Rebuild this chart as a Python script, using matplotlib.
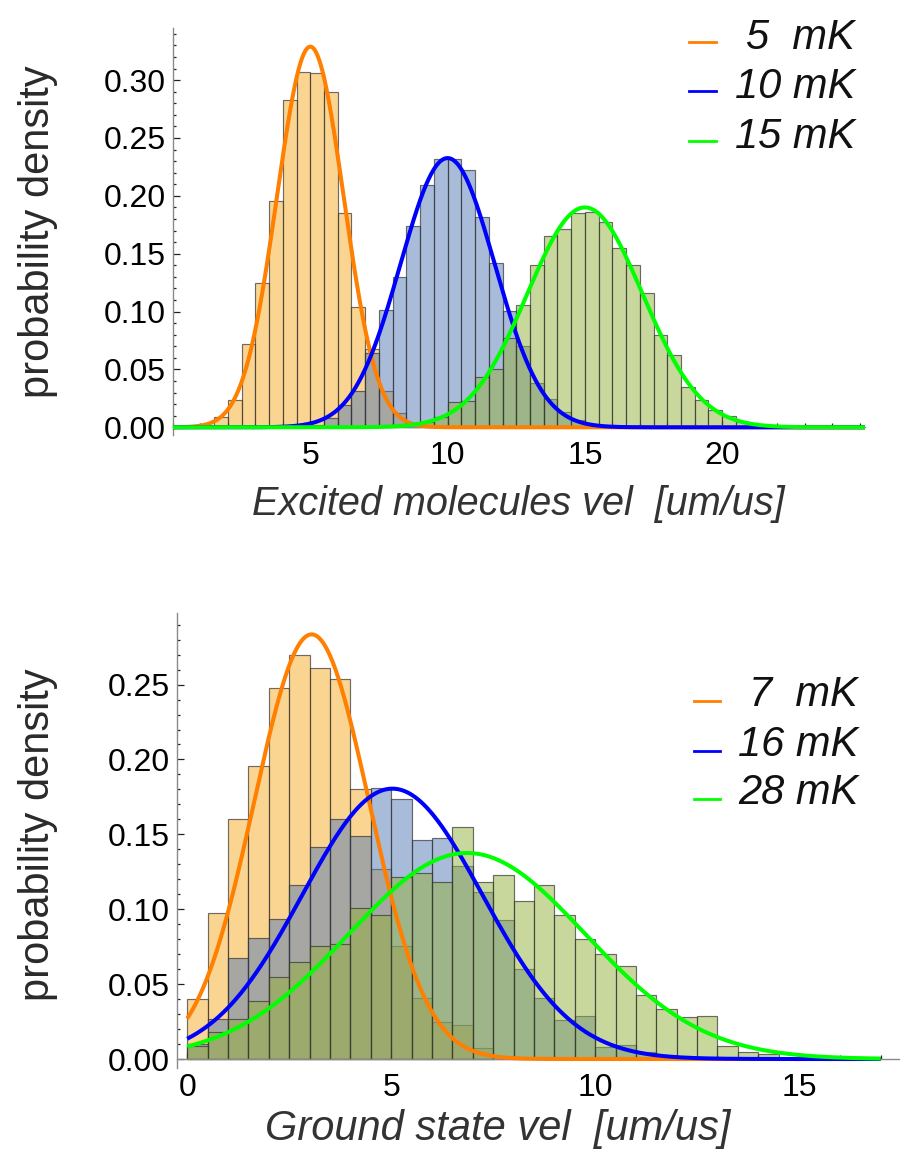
import numpy as np
import matplotlib
matplotlib.use("Agg")
import matplotlib.pyplot as plt
from matplotlib.lines import Line2D
from matplotlib.ticker import MultipleLocator, FormatStrFormatter

# ---------------- data ----------------
BIN_WIDTH = 0.5

# Excited molecules: histogram densities (bin width 0.5) and their first bin edge
exc_labels = ["5  mK", "10 mK", "15 mK"]
exc_orange_start = 1.0
exc_orange = [0.002, 0.0086, 0.0236, 0.072, 0.1245, 0.1957, 0.283, 0.307, 0.306,
              0.290, 0.185, 0.104, 0.0675, 0.0314, 0.0126, 0.003]
exc_blue_start = 5.0
exc_blue = [0.002, 0.008, 0.019, 0.0314, 0.064, 0.101, 0.130, 0.174, 0.209, 0.2317,
            0.2317, 0.222, 0.182, 0.142, 0.1006, 0.0703, 0.038, 0.0248, 0.0135,
            0.006, 0.002, 0.001]
exc_green_start = 8.5
exc_green = [0.002, 0.005, 0.0086, 0.0216, 0.0228, 0.0438, 0.050, 0.0775, 0.1055,
             0.140, 0.1654, 0.1713, 0.185, 0.186, 0.177, 0.155, 0.140, 0.116, 0.080,
             0.0625, 0.035, 0.0236, 0.015, 0.010, 0.005, 0.002]
exc_fit_mean = [5.0, 10.0, 15.0]
exc_fit_sigma = [1.213, 1.715, 2.10]

# Ground state molecules
gnd_labels = ["7  mK", "16 mK", "28 mK"]
gnd_orange_start = 0.0
gnd_orange = [0.0401, 0.0974, 0.160, 0.1955, 0.2477, 0.2695, 0.261, 0.254, 0.180,
              0.1268, 0.0755, 0.0406, 0.025, 0.0227, 0.0071]
gnd_blue_start = 0.0
gnd_blue = [0.010, 0.0265, 0.0673, 0.0807, 0.0934, 0.1163, 0.1414, 0.160, 0.1486,
            0.181, 0.1736, 0.1464, 0.1474, 0.1292, 0.1114, 0.0925, 0.060, 0.041,
            0.026, 0.029, 0.008, 0.0096, 0.005, 0.002]
gnd_green_start = 0.0
gnd_green = [0.0087, 0.0183, 0.0265, 0.039, 0.0546, 0.0648, 0.0755, 0.0767, 0.1005,
             0.0963, 0.1212, 0.1241, 0.1179, 0.1549, 0.1181, 0.1228, 0.1058, 0.1165,
             0.0964, 0.080, 0.070, 0.0624, 0.0425, 0.0334, 0.028, 0.029, 0.009,
             0.005, 0.0035]
gnd_fit_mean = [3.05, 5.03, 6.86]
gnd_fit_sigma = [1.407, 2.21, 2.90]

# ---------------- style ----------------
W, H = 901, 1149
BAR_BASE = [(0.968, 0.670, 0.146), (0.326, 0.474, 0.710), (0.576, 0.694, 0.224)]
LINE_COLORS = ["#FF7F00", "#0000FF", "#00FF00"]
EDGE = (0.2, 0.2, 0.2, 0.7)
AXIS_GRAY = "#8a8a8a"
SANS = "Liberation Sans"


def fx(px):
    return px / W


def fy(py):
    return 1 - py / H


def gauss(x, m, s):
    return np.exp(-0.5 * ((x - m) / s) ** 2) / (s * np.sqrt(2 * np.pi))


def draw_panel(ax, hists, means, sigmas, xlim, ylim, xticks, curve_range):
    for (start, vals), base in zip(hists, BAR_BASE):
        edges = start + BIN_WIDTH * np.arange(len(vals))
        ax.bar(edges, vals, width=BIN_WIDTH, align="edge",
               facecolor=(*base, 0.5), edgecolor=EDGE, linewidth=0.85, zorder=2)
    xs = np.linspace(curve_range[0], curve_range[1], 800)
    for m, s, c in zip(means, sigmas, LINE_COLORS):
        ax.plot(xs, gauss(xs, m, s), color=c, lw=2.9, zorder=3,
                solid_capstyle="butt")
    ax.set_xlim(*xlim)
    ax.set_ylim(*ylim)
    for side in ("top", "right"):
        ax.spines[side].set_visible(False)
    ax.spines["bottom"].set_position(("data", 0))
    for side in ("left", "bottom"):
        ax.spines[side].set_color(AXIS_GRAY)
        ax.spines[side].set_linewidth(1.0)
    ax.set_xticks(xticks)
    ax.xaxis.set_minor_locator(MultipleLocator(1))
    ax.yaxis.set_major_locator(MultipleLocator(0.05))
    ax.yaxis.set_minor_locator(MultipleLocator(0.01))
    ax.yaxis.set_major_formatter(FormatStrFormatter("%.2f"))
    ax.tick_params(axis="both", which="both", direction="in", color="#222222",
                   width=0.9, labelsize=23)
    ax.tick_params(axis="x", which="major", length=4, pad=10)
    ax.tick_params(axis="x", which="minor", length=3)
    ax.tick_params(axis="y", which="major", length=5, pad=5)
    ax.tick_params(axis="y", which="minor", length=2.5)
    for lab in ax.get_xticklabels() + ax.get_yticklabels():
        lab.set_fontfamily(SANS)
    ax.set_facecolor("none")


def draw_legend(fig, labels, line_x, line_ys, text_x, baselines):
    for lab, c, ly, by in zip(labels, LINE_COLORS, line_ys, baselines):
        fig.add_artist(Line2D([fx(line_x[0]), fx(line_x[1])], [fy(ly), fy(ly)],
                              color=c, lw=2.0, transform=fig.transFigure))
        fig.text(fx(text_x), fy(by), lab, ha="right", va="baseline",
                 fontsize=30, fontstyle="italic", family=SANS, color="#111111")


fig = plt.figure(figsize=(W / 100, H / 100), dpi=100)

# top panel: excited molecules
ax1 = fig.add_axes([fx(173), fy(435.4), fx(865) - fx(173), (435.4 - 28) / H])
draw_panel(ax1,
           [(exc_orange_start, exc_orange), (exc_blue_start, exc_blue),
            (exc_green_start, exc_green)],
           exc_fit_mean, exc_fit_sigma,
           xlim=(0, 25.2), ylim=(-0.007, 0.345), xticks=[5, 10, 15, 20],
           curve_range=(0, 25.2))

# bottom panel: ground state molecules
ax2 = fig.add_axes([fx(177), fy(1068), fx(899) - fx(177), (1068 - 612.7) / H])
draw_panel(ax2,
           [(gnd_orange_start, gnd_orange), (gnd_blue_start, gnd_blue),
            (gnd_green_start, gnd_green)],
           gnd_fit_mean, gnd_fit_sigma,
           xlim=(-0.25, 17.45), ylim=(-0.006, 0.298), xticks=[0, 5, 10, 15],
           curve_range=(0, 17.0))

# axis titles
fig.text(fx(38), fy(232), "probability density", rotation=90, ha="center",
         va="center", fontsize=30, family=SANS, color="#2a2a2a")
fig.text(fx(38), fy(835), "probability density", rotation=90, ha="center",
         va="center", fontsize=30, family=SANS, color="#2a2a2a")
fig.text(fx(518), fy(515), "Excited molecules vel  [um/us]", ha="center",
         va="baseline", fontsize=28.5, fontstyle="italic", family=SANS,
         color="#333333")
fig.text(fx(498), fy(1140), "Ground state vel  [um/us]", ha="center",
         va="baseline", fontsize=30, fontstyle="italic", family=SANS,
         color="#333333")

# legends
draw_legend(fig, exc_labels, (689, 716), (41.7, 91, 140.7), 855, (48.8, 98.3, 148.3))
draw_legend(fig, gnd_labels, (694, 720), (701, 750.7, 799.3), 858, (706, 755.7, 804.3))

fig.savefig("out.png", dpi=100)
